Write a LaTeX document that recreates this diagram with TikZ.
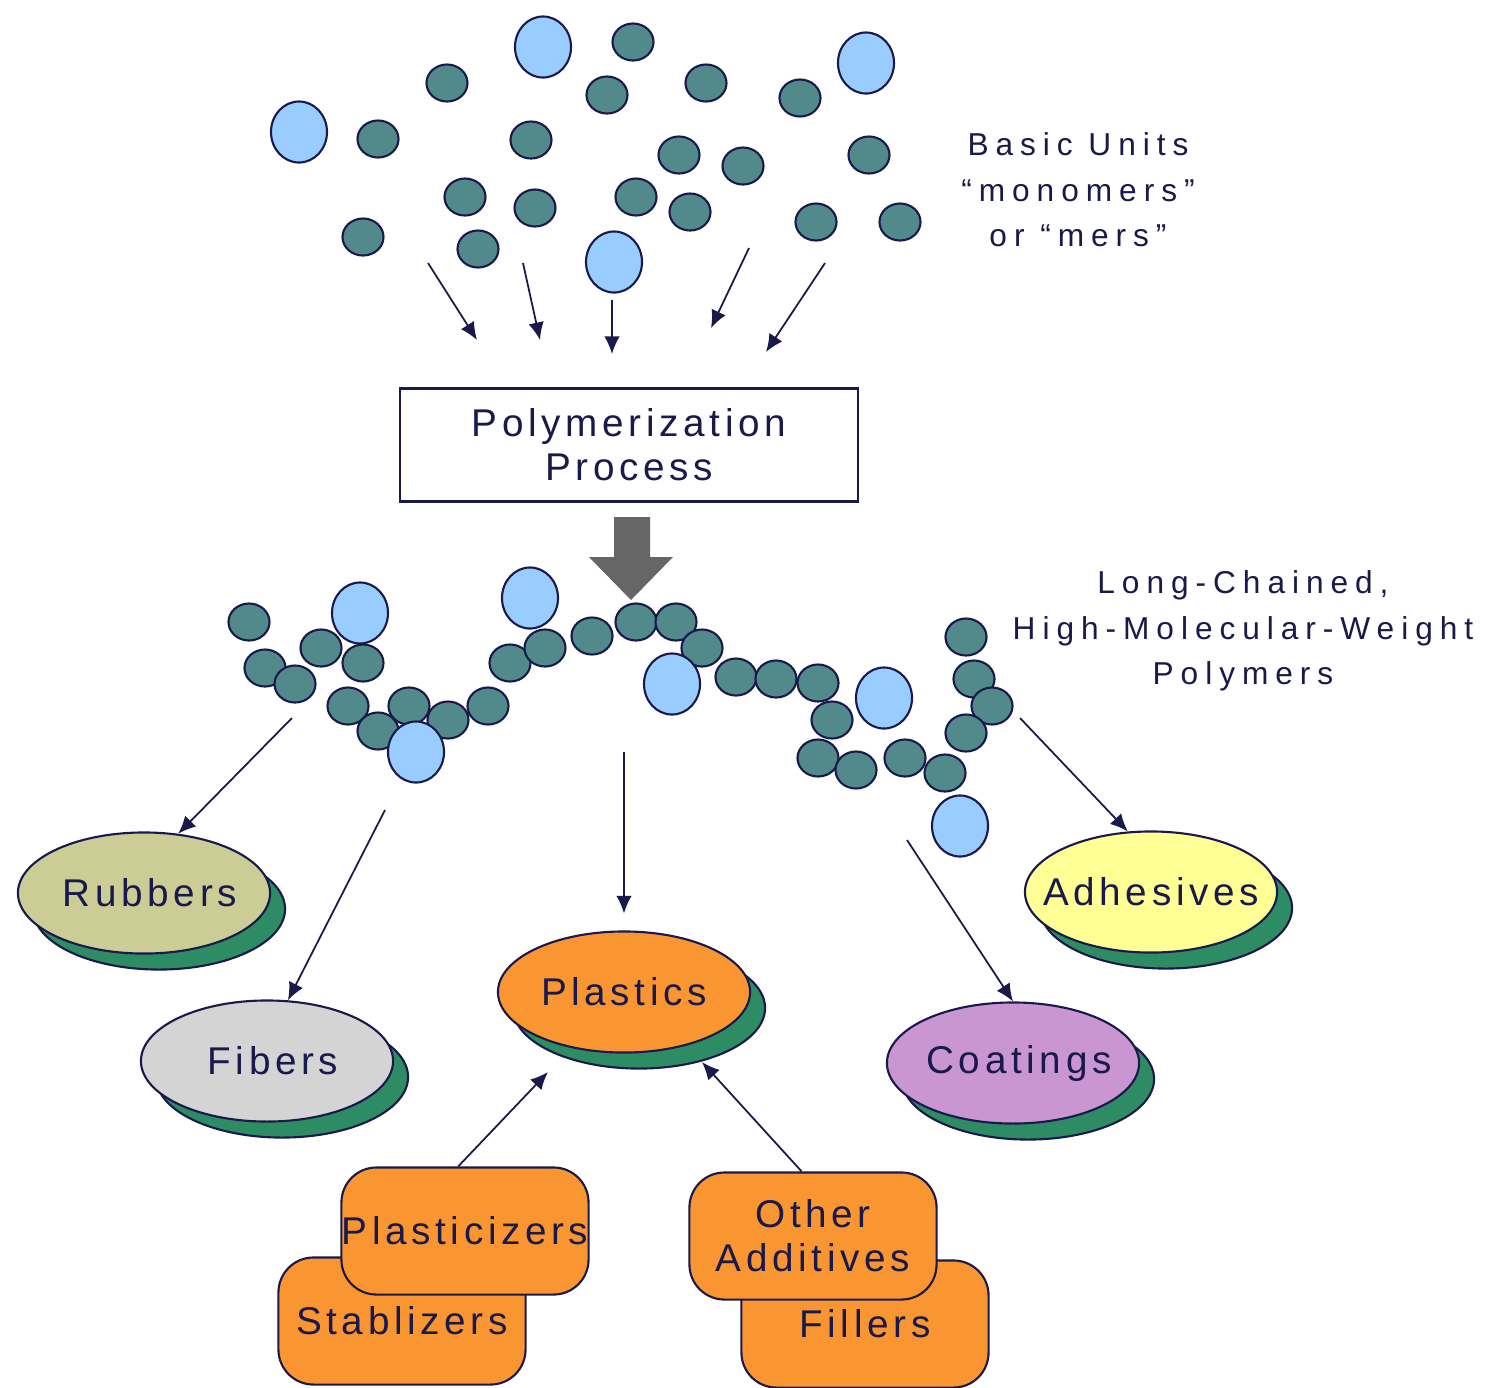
\documentclass[tikz,border=0pt]{standalone}
\usepackage{fontspec}
\setmainfont[LetterSpace=12]{Liberation Sans}
\usepackage{tikz}
\usetikzlibrary{arrows.meta}
\usetikzlibrary{shapes.geometric}
\usetikzlibrary{shadows}

\definecolor{navy}{RGB}{25,25,75}
\definecolor{monoteal}{RGB}{82,138,140}
\definecolor{monoblue}{RGB}{153,204,255}
\definecolor{shadegreen}{RGB}{45,140,100}
\definecolor{rubberfill}{RGB}{204,204,150}
\definecolor{fiberfill}{RGB}{212,212,212}
\definecolor{plasticfill}{RGB}{250,150,50}
\definecolor{coatfill}{RGB}{202,150,210}
\definecolor{adhesfill}{RGB}{255,255,150}
\definecolor{bigarrow}{RGB}{102,102,102}

\begin{document}
\begin{tikzpicture}[x=0.01cm,y=-0.01cm,
    mer/.style={ellipse,draw=navy,fill=monoteal,line width=0.6pt,
      minimum width=0.41cm,minimum height=0.37cm,inner sep=0pt},
    bigmer/.style={ellipse,draw=navy,fill=monoblue,line width=0.6pt,
      minimum width=0.56cm,minimum height=0.61cm,inner sep=0pt},
    link/.style={draw=navy,line width=0.5pt,-{Latex[length=5pt,width=4.4pt]}},
    lbl/.style={text=navy,font=\fontsize{11}{12.5}\selectfont},
    note/.style={text=navy,align=center,
      font=\fontsize{9}{12.9}\selectfont\addfontfeatures{LetterSpace=22}},
    oval/.style={ellipse,draw=navy,line width=0.6pt,inner sep=0pt,
      minimum width=2.52cm,minimum height=1.21cm,
      drop shadow={shadow xshift=0.15cm,shadow yshift=-0.16cm,
        fill=shadegreen,draw=navy,opacity=1}},
    ovaltext/.style={lbl,xshift=0.06cm},
    additive/.style={rectangle,rounded corners=0.35cm,draw=navy,
      fill=plasticfill,line width=0.6pt,inner sep=0pt,
      minimum width=2.47cm,minimum height=1.27cm,lbl}]
  \useasboundingbox (0,0) rectangle (1497,1387);

  \foreach \x/\y [count=\i] in {447/83,633/42,607/95,706/83,800/98,
      378/139,531/140,679/155,743/166,869/155,465/197,535/208,636/197,
      690/212,363/237,478/249,816/222,900/222}
    \node[mer] (m\i) at (\x,\y) {};
  \foreach \x/\y [count=\i] in {299/132,543/47,866/63,614/262}
    \node[bigmer] (bm\i) at (\x,\y) {};
  \node[note] (basic) at (1078,190) {Basic Units\\“monomers”\\or “mers”};

  \coordinate (t1s) at (428,263);
  \coordinate (t1e) at (477,340);
  \coordinate (t2s) at (523,263);
  \coordinate (t2e) at (540,340);
  \coordinate (t3s) at (612,300);
  \coordinate (t3e) at (612,354);
  \coordinate (t4s) at (749,248);
  \coordinate (t4e) at (711,328);
  \coordinate (t5s) at (825,263);
  \coordinate (t5e) at (766,352);
  \foreach \i in {1,...,5}
    \draw[link] (t\i s) -- (t\i e);

  \node[draw=navy,line width=0.6pt,minimum width=4.57cm,minimum height=1.13cm,
    align=center,lbl] (process) at (629,445) {Polymerization\\Process};
  \fill[bigarrow] (614,517) -- (650,517) -- (650,557) -- (673,557)
    -- (631,600) -- (589,557) -- (614,557) -- cycle;

  \foreach \x/\y [count=\i] in {249/622,321/648,265/668,295/684,363/663,
      348/706,409/706,378/731,448/720,488/706,510/663,545/648,592/636,
      636/622,676/622,702/648,736/677,776/679,818/683,832/720,818/758,
      856/770,905/758,945/773,966/637,974/679,992/706,966/733}
    \node[mer] (c\i) at (\x,\y) {};
  \foreach \x/\y [count=\i] in {360/613,530/598,672/684,416/752,
      884/698,960/826}
    \node[bigmer] (bc\i) at (\x,\y) {};
  \node[note] (polymers) at (1243,631)
    {Long-Chained,\\High-Molecular-Weight\\Polymers};

  \node[oval,fill=rubberfill,label={[ovaltext]center:Rubbers}] (rubbers) at (144,893) {};
  \node[oval,fill=fiberfill,label={[ovaltext]center:Fibers}] (fibers) at (267,1061) {};
  \node[oval,fill=plasticfill,label={[lbl]center:Plastics}] (plastics) at (624,992) {};
  \node[oval,fill=coatfill,label={[ovaltext]center:Coatings}] (coatings) at (1013,1063) {};
  \node[oval,fill=adhesfill,label={[lbl]center:Adhesives}] (adhesives) at (1151,892) {};

  \coordinate (r1) at (292,718);
  \coordinate (f1) at (385,810);
  \coordinate (p1) at (624,752);
  \coordinate (co1) at (907,840);
  \coordinate (a1) at (1020,718);
  \draw[link] (r1) -- (rubbers.60);
  \draw[link] (f1) -- (fibers.71);
  \draw[link,shorten >=0.17cm] (p1) -- (plastics.north);
  \draw[link] (co1) -- (coatings.north);
  \draw[link] (a1) -- (adhesives.111);

  \node[additive] (stabilizers) at (402,1321) {Stablizers};
  \node[additive] (plasticizers) at (465,1231) {Plasticizers};
  \node[additive] (fillers) at (865,1324) {Fillers};
  \node[additive,align=center] (additives) at (813,1236) {Other\\Additives};

  \coordinate (p2) at (548,1072);
  \coordinate (p3) at (702,1062);
  \draw[link] (plasticizers.96) -- (p2);
  \draw[link] (additives.100) -- (p3);
\end{tikzpicture}
\end{document}
